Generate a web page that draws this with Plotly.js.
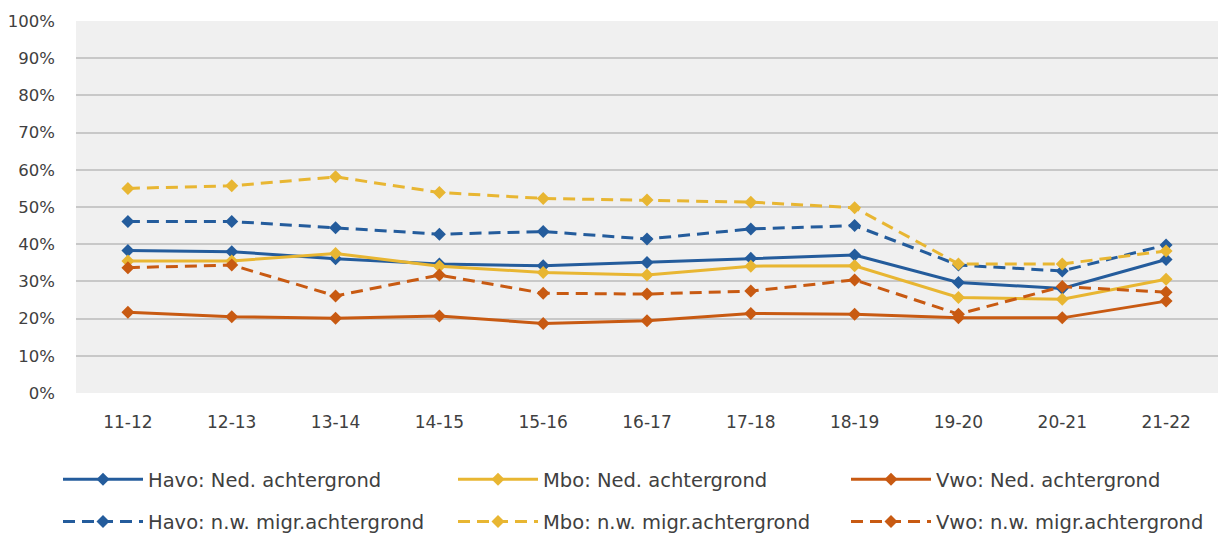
<!DOCTYPE html>
<html>
<head>
<meta charset="utf-8">
<script src="https://cdn.plot.ly/plotly-3.0.1.min.js"></script>
<style>html,body{margin:0;padding:0;background:#fff;}#chart{width:1220px;height:537px;}</style>
</head>
<body>
<div id="chart"></div>
<script>
const categories = ["11-12","12-13","13-14","14-15","15-16","16-17","17-18","18-19","19-20","20-21","21-22"];
const havoNed   = [0.383,0.380,0.361,0.347,0.342,0.351,0.362,0.371,0.297,0.281,0.359];
const mboNed    = [0.355,0.355,0.375,0.341,0.324,0.317,0.341,0.342,0.257,0.252,0.306];
const vwoNed    = [0.217,0.205,0.201,0.207,0.187,0.194,0.214,0.212,0.202,0.202,0.247];
const havoMigr  = [0.461,0.461,0.444,0.427,0.434,0.414,0.441,0.450,0.344,0.328,0.398];
const mboMigr   = [0.550,0.557,0.581,0.539,0.523,0.519,0.513,0.498,0.347,0.347,0.382];
const vwoMigr   = [0.337,0.344,0.261,0.317,0.268,0.266,0.274,0.304,0.212,0.286,0.271];
const seriesNames = ["Havo: Ned. achtergrond","Mbo: Ned. achtergrond","Vwo: Ned. achtergrond",
                     "Havo: n.w. migr.achtergrond","Mbo: n.w. migr.achtergrond","Vwo: n.w. migr.achtergrond"];

const BLUE = "#245C9C", GOLD = "#E8B632", ORANGE = "#C85A12";
const FONT = "DejaVu Sans, Verdana, sans-serif";
const TXT = "#404040";

function tr(y, name, color, dash, legend, group) {
  return {
    x: categories, y: y, name: name, type: "scatter", mode: "lines+markers",
    line: {color: color, width: 3, dash: dash},
    marker: {symbol: "diamond", size: 10, color: color},
    legend: legend, legendgroup: group,
    hoverinfo: "skip"
  };
}
const data = [
  tr(havoNed, seriesNames[0], BLUE, "solid", "legend", "a"),
  tr(mboNed, seriesNames[1], GOLD, "solid", "legend2", "b"),
  tr(vwoNed, seriesNames[2], ORANGE, "solid", "legend3", "c"),
  tr(havoMigr, seriesNames[3], BLUE, "12px,7px", "legend", "d"),
  tr(mboMigr, seriesNames[4], GOLD, "12px,7px", "legend2", "e"),
  tr(vwoMigr, seriesNames[5], ORANGE, "12px,7px", "legend3", "f")
];

function leg(xpx) {
  return {
    xref: "container", yref: "container", x: xpx / 1220, y: 1 - 460 / 537,
    xanchor: "left", yanchor: "top", orientation: "v",
    font: {family: FONT, size: 19.5, color: TXT},
    itemwidth: 80, tracegroupgap: 14, bgcolor: "rgba(0,0,0,0)", borderwidth: 0
  };
}

const layout = {
  width: 1220, height: 537,
  margin: {l: 76, r: 2, t: 21, b: 144, autoexpand: false},
  paper_bgcolor: "#ffffff", plot_bgcolor: "#F0F0F0",
  showlegend: true,
  legend: leg(58), legend2: leg(453), legend3: leg(846),
  xaxis: {
    type: "category", range: [-0.5, 10.5], showgrid: false, zeroline: false,
    showline: false, ticks: "", ticklabelstandoff: 17, tickangle: 0, automargin: false,
    tickfont: {family: FONT, size: 17, color: TXT}
  },
  yaxis: {
    range: [0, 1], dtick: 0.1, tickformat: ".0%", showgrid: true,
    gridcolor: "#C8C8C8", gridwidth: 2, zeroline: false, showline: false,
    ticks: "", ticklabelstandoff: 20, automargin: false,
    tickfont: {family: FONT, size: 16.5, color: TXT}
  }
};
Plotly.newPlot("chart", data, layout, {displayModeBar: false, staticPlot: true});
</script>
</body>
</html>
